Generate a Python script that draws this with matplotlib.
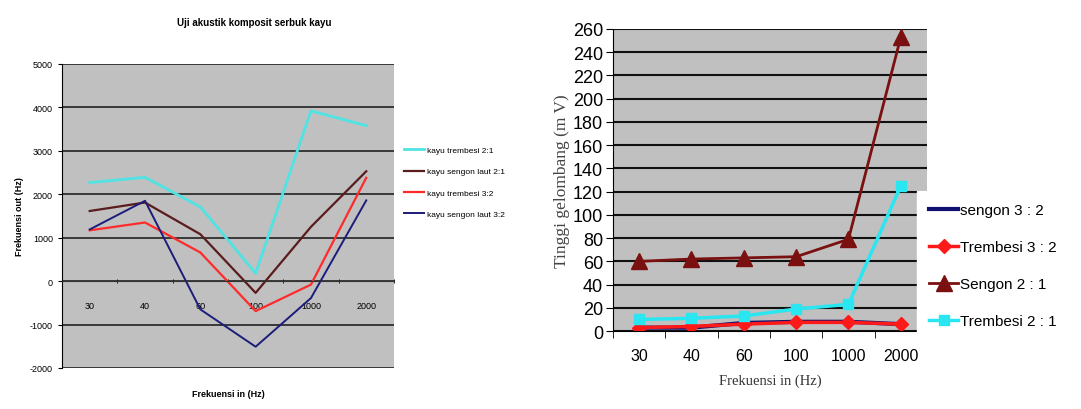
import numpy as np
import matplotlib.pyplot as plt

plt.rcParams['font.family'] = ['Liberation Sans', 'DejaVu Sans']
plt.rcParams['axes.unicode_minus'] = False

# left chart data
freq_labels = ['30', '40', '60', '100', '1000', '2000']
trembesi_21_out = [2270, 2390, 1710, 180, 3920, 3580]
sengon_laut_21_out = [1615, 1810, 1080, -270, 1250, 2530]
trembesi_32_out = [1170, 1350, 660, -690, -80, 2380]
sengon_laut_32_out = [1190, 1850, -650, -1510, -390, 1860]

# right chart data
sengon_32 = [3, 3, 7, 8, 8, 6]
trembesi_32 = [3, 4, 6, 7.5, 7.5, 6]
sengon_21 = [60, 62, 63, 64, 79, 253]
trembesi_21 = [10, 11, 13, 19, 23, 125]

x = np.arange(len(freq_labels))
gray = '#c0c0c0'

fig = plt.figure(figsize=(10.81, 4.10), dpi=100)

# ---- left chart
ax1 = fig.add_axes([0.0574, 0.10, 0.307, 0.7415])
ax1.set_facecolor(gray)
ax1.plot(x, trembesi_21_out, color='#4fe3e3', lw=2, label='kayu trembesi 2:1')
ax1.plot(x, sengon_laut_21_out, color='#5a1c1c', lw=1.6, label='kayu sengon laut 2:1')
ax1.plot(x, trembesi_32_out, color='#ff2b2b', lw=1.6, label='kayu trembesi 3:2')
ax1.plot(x, sengon_laut_32_out, color='#1c1c7a', lw=1.4, label='kayu sengon laut 3:2')
ax1.set_xlim(-0.5, 5.5)
ax1.set_ylim(-2000, 5000)
ax1.set_yticks(range(-2000, 5001, 1000))
ax1.yaxis.grid(True, color='#222222', lw=1.2)
ax1.set_axisbelow(True)
ax1.spines['top'].set_visible(False)
ax1.spines['right'].set_visible(False)
ax1.spines['bottom'].set_position(('data', 0))
ax1.spines['bottom'].set_color('#333333')
ax1.set_xticks(x)
ax1.set_xticklabels(freq_labels)
ax1.set_xticks(np.arange(-0.5, 6, 1), minor=True)
ax1.tick_params(axis='x', which='major', length=0, pad=14, labelsize=6.5)
ax1.tick_params(axis='x', which='minor', length=3, direction='inout')
ax1.tick_params(axis='y', labelsize=6.5, length=3)
ax1.set_ylabel('Frekuensi out (Hz)', fontsize=6.5, fontweight='bold')
ax1.yaxis.set_label_coords(-0.115, 0.5)
ax1.set_xlabel('Frekuensi in (Hz)', fontsize=6.5, fontweight='bold')
ax1.xaxis.set_label_coords(0.5, -0.07)
fig.text(0.235, 0.945, 'Uji akustik komposit serbuk kayu', ha='center', va='center',
         fontsize=7, fontweight='bold')
ax1.legend(loc='upper left', bbox_to_anchor=(396 / 1081, 1 - 140 / 410),
           bbox_transform=fig.transFigure, frameon=False, fontsize=6,
           handlelength=2.5, labelspacing=1.6, handletextpad=0.3)

# ---- right chart
ax2 = fig.add_axes([0.567, 0.19, 0.2905, 0.737])
ax2.set_facecolor(gray)
ax2.plot(x, sengon_32, color='#101070', lw=3, label='sengon 3 : 2')
ax2.plot(x, trembesi_32, color='#ff1a1a', lw=2.5, marker='D', ms=7, label='Trembesi 3 : 2')
ax2.plot(x, sengon_21, color='#7a1010', lw=2, marker='^', ms=12, label='Sengon 2 : 1')
ax2.plot(x, trembesi_21, color='#2ae6f0', lw=2.5, marker='s', ms=7, label='Trembesi 2 : 1')
ax2.set_xlim(-0.5, 5.5)
ax2.set_ylim(0, 260)
ax2.set_yticks(range(0, 261, 20))
ax2.yaxis.grid(True, color='#111111', lw=1.5)
ax2.set_axisbelow(True)
ax2.spines['top'].set_visible(False)
ax2.spines['right'].set_visible(False)
ax2.set_xticks(x)
ax2.set_xticklabels(freq_labels)
ax2.set_xticks(np.arange(-0.5, 6, 1), minor=True)
ax2.tick_params(axis='x', which='major', length=0, pad=12, labelsize=11.5)
ax2.tick_params(axis='x', which='minor', length=5)
ax2.tick_params(axis='y', labelsize=13, length=5, pad=2)
ax2.set_ylabel('Tinggi gelombang (m V)', fontsize=12.5, family='Liberation Serif',
               color='#444444', labelpad=2)
ax2.set_xlabel('Frekuensi in (Hz)', fontsize=10.5, family='Liberation Serif',
               color='#333333', labelpad=8)
leg = ax2.legend(loc='upper left', bbox_to_anchor=(917 / 1081, 1 - 192 / 410),
                 bbox_transform=fig.transFigure, frameon=True, fancybox=False,
                 fontsize=11, handlelength=1.9, labelspacing=1.5, handletextpad=0.1,
                 borderpad=0.8, borderaxespad=0)
leg.get_frame().set_facecolor('white')
leg.get_frame().set_edgecolor('white')
leg.get_frame().set_alpha(1)

fig.savefig('out.png', dpi=100)
